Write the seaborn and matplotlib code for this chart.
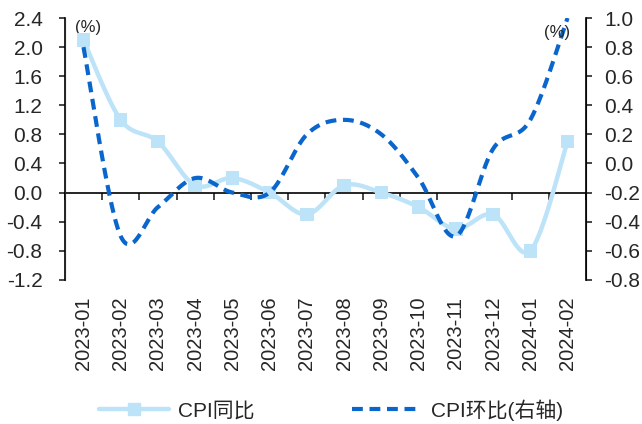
import numpy as np
import pandas as pd
import seaborn as sns
import matplotlib.pyplot as plt
from matplotlib.lines import Line2D

###### CPI yoy / mom dual-axis line chart ######

months = ["2023-01", "2023-02", "2023-03", "2023-04", "2023-05", "2023-06", "2023-07",
          "2023-08", "2023-09", "2023-10", "2023-11", "2023-12", "2024-01", "2024-02"]
cpi_yoy = [2.1, 1.0, 0.7, 0.1, 0.2, 0.0, -0.3, 0.1, 0.0, -0.2, -0.5, -0.3, -0.8, 0.7]
cpi_mom = [0.8, -0.5, -0.3, -0.1, -0.2, -0.2, 0.2, 0.3, 0.2, -0.1, -0.5, 0.1, 0.3, 1.0]
left_ticks = [-1.2, -0.8, -0.4, 0.0, 0.4, 0.8, 1.2, 1.6, 2.0, 2.4]
right_ticks = [-0.8, -0.6, -0.4, -0.2, 0.0, 0.2, 0.4, 0.6, 0.8, 1.0]

LIGHT = "#BDE3F9"
DARK = "#0A66CC"


def smooth(y, n=30):
	'''
	Excel-like smoothed line (Catmull-Rom through every point)
	'''
	x = np.arange(len(y), dtype=float)
	y = np.asarray(y, dtype=float)
	px = np.concatenate([[x[0]], x, [x[-1]]])
	py = np.concatenate([[y[0]], y, [y[-1]]])
	xs, ys = [], []
	t = np.linspace(0, 1, n)
	for i in range(len(y) - 1):
		p0 = np.array([px[i], py[i]])
		p1 = np.array([px[i + 1], py[i + 1]])
		p2 = np.array([px[i + 2], py[i + 2]])
		p3 = np.array([px[i + 3], py[i + 3]])
		c1 = p1 + (p2 - p0) / 6
		c2 = p2 - (p3 - p1) / 6
		b = (np.outer((1 - t) ** 3, p1) + np.outer(3 * (1 - t) ** 2 * t, c1)
			 + np.outer(3 * (1 - t) * t ** 2, c2) + np.outer(t ** 3, p2))
		xs.append(b[:, 0])
		ys.append(b[:, 1])
	return pd.DataFrame({"x": np.concatenate(xs), "y": np.concatenate(ys)})


sns.set_style("white")
plt.rcParams['font.family'] = ['Liberation Sans', 'Noto Sans CJK SC']
plt.rcParams['font.size'] = 14

fig = plt.figure(figsize=(6.42, 4.24), dpi=100)
ax = fig.add_axes([0.101, 0.34, 0.812, 0.6175])
ax2 = ax.twinx()

yoy_df = smooth(cpi_yoy)
mom_df = smooth(cpi_mom)
pts = pd.DataFrame({"x": np.arange(len(months)), "y": cpi_yoy})

sns.lineplot(data=yoy_df, x="x", y="y", ax=ax, color=LIGHT, lw=3.2, sort=False, zorder=3)
sns.scatterplot(data=pts, x="x", y="y", ax=ax, color=LIGHT, marker="s", s=95,
				edgecolor="none", zorder=4)
sns.lineplot(data=mom_df, x="x", y="y", ax=ax2, color=DARK, lw=3, sort=False)
ax2.lines[0].set_dashes((2.6, 1.6))

ax.set_xlim(-0.5, len(months) - 0.5)
ax.set_ylim(-1.2, 2.4)
ax2.set_ylim(-0.8, 1.0)
ax.set_yticks(left_ticks, ["%.1f" % v for v in left_ticks])
ax2.set_yticks(right_ticks, ["%.1f" % v for v in right_ticks])

# x axis crosses at 0 with ticks between categories, labels kept at the bottom
ax.spines['bottom'].set_position(('data', 0))
ax.spines['top'].set_visible(False)
ax2.spines['top'].set_visible(False)
ax2.spines['bottom'].set_visible(False)
for s in ['bottom', 'left']:
	ax.spines[s].set_color('black')
	ax.spines[s].set_linewidth(1.2)
ax2.spines['right'].set_color('black')
ax2.spines['right'].set_linewidth(1.2)
ax.set_xticks(np.arange(len(months)), months, rotation=90)
ax.set_xticks(np.arange(len(months) + 1) - 0.5, minor=True)
ax.tick_params(axis='x', which='major', length=0, pad=75, labelsize=14.5)
ax.tick_params(axis='x', which='minor', length=5, width=1.2, direction='out', bottom=True)
ax.tick_params(axis='y', length=4, width=1.2, direction='out', left=True, labelsize=15, pad=12)
ax2.tick_params(axis='y', length=4, width=1.2, direction='out', right=True, labelsize=15, pad=9)
ax.set_xlabel("")
ax.set_ylabel("")
ax2.set_ylabel("")
ax.grid(False)
ax2.grid(False)

ax.text(0.045, 0.965, "(%)", transform=ax.transAxes, fontsize=12, va='center', ha='center')
ax2.text(0.945, 0.945, "(%)", transform=ax2.transAxes, fontsize=12, va='center', ha='center')

handles = [Line2D([], [], color=LIGHT, lw=3.2, marker="s", markersize=9),
		   Line2D([], [], color=DARK, lw=3, dashes=(2.6, 1.6))]
fig.legend(handles, ["CPI同比", "CPI环比(右轴)"], loc='center', bbox_to_anchor=(0.516, 0.033),
		   ncol=2, frameon=False, fontsize=15, handlelength=3.36, columnspacing=4.7,
		   handletextpad=0.43)

plt.savefig("out.png", dpi=100)
plt.close()
